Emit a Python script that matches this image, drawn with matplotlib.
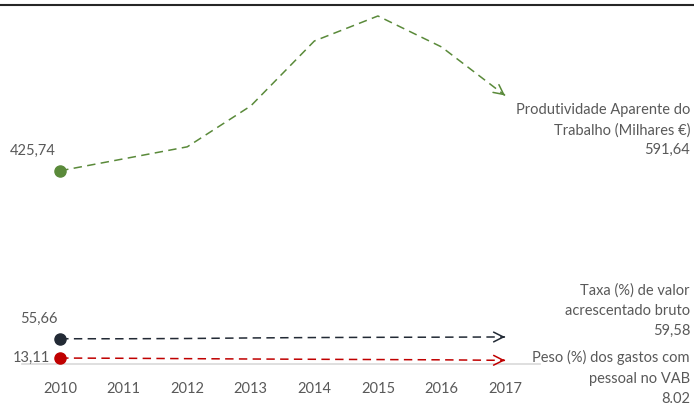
import matplotlib
matplotlib.use("Agg")
import matplotlib.pyplot as plt
from matplotlib.lines import Line2D

years = ["2010", "2011", "2012", "2013", "2014", "2015", "2016", "2017"]
produtividade = [425.74, 452.1, 478.5, 568.7, 711.7, 766.8, 698.6, 591.64]
taxa_vab = [55.66, 55.6, 56.2, 57.4, 58.3, 58.8, 59.1, 59.58]
peso_gastos = [13.11, 12.6, 11.8, 11.0, 10.4, 9.8, 9.2, 8.02]

labels_right = ["Produtividade Aparente do\nTrabalho (Milhares €)\n591,64",
                "Taxa (%) de valor\nacrescentado bruto\n59,58",
                "Peso (%) dos gastos com\npessoal no VAB\n8.02"]
labels_left = ["425,74", "55,66", "13,11"]

colors = ["#5A8A3A", "#222A35", "#C00000"]
txt = "#595959"

plt.rcParams['font.family'] = ['Lato', 'DejaVu Sans']

fig = plt.figure(figsize=(6.94, 4.05), dpi=100)
W, H = 694, 405
ax = fig.add_axes([22 / W, (H - 364) / H, (540 - 22) / W, (364 - 5) / H])
ax.set_xlim(-0.6, 7.55)
ax.set_ylim(0, 791)

x = list(range(len(years)))
series = [produtividade, taxa_vab, peso_gastos]
for vals, c in zip(series, colors):
    ax.plot(x, vals, color=c, lw=1.1, ls=(0, (5.5, 3.5)))
    ax.plot([x[0]], [vals[0]], marker="o", ms=8, color=c, mec=c, zorder=5)
    # open arrow head at end
    f = 0.97
    xs = x[-2] + f * (x[-1] - x[-2])
    ys = vals[-2] + f * (vals[-1] - vals[-2])
    ax.annotate("", xy=(x[-1], vals[-1]), xytext=(xs, ys),
                arrowprops=dict(arrowstyle="->,head_length=0.7,head_width=0.35",
                                color=c, lw=1.1, shrinkA=0, shrinkB=0))

for s in ["top", "right", "left"]:
    ax.spines[s].set_visible(False)
ax.spines["bottom"].set_color("#D9D9D9")
ax.spines["bottom"].set_linewidth(1.2)
ax.set_yticks([])
ax.set_xticks(x)
ax.set_xticklabels(years, color=txt, fontsize=10.5)
ax.tick_params(axis="x", length=0, pad=13)

# left value labels
ax.annotate(labels_left[0], (x[0], produtividade[0]), xytext=(-20, 14),
            textcoords="offset points", ha="center", va="center",
            color=txt, fontsize=10.5)
ax.annotate(labels_left[1], (x[0], taxa_vab[0]), xytext=(-15, 14),
            textcoords="offset points", ha="center", va="center",
            color=txt, fontsize=10.5)
ax.annotate(labels_left[2], (x[0], peso_gastos[0]), xytext=(-7, 0),
            textcoords="offset points", ha="right", va="center",
            color=txt, fontsize=10.5)

# right series labels
fig.text(690 / W, 1 - 130 / H, labels_right[0], ha="right", va="center",
         color=txt, fontsize=10.5, linespacing=1.55)
fig.text(690 / W, 1 - 311 / H, labels_right[1], ha="right", va="center",
         color=txt, fontsize=10.5, linespacing=1.55)
fig.text(690 / W, 1 - 378 / H, labels_right[2], ha="right", va="center",
         color=txt, fontsize=10.5, linespacing=1.55)

# top rule
fig.add_artist(Line2D([0, 1], [1 - 5 / H, 1 - 5 / H], color="#262626", lw=1.5,
                      transform=fig.transFigure))

fig.savefig("out.png", dpi=100)
